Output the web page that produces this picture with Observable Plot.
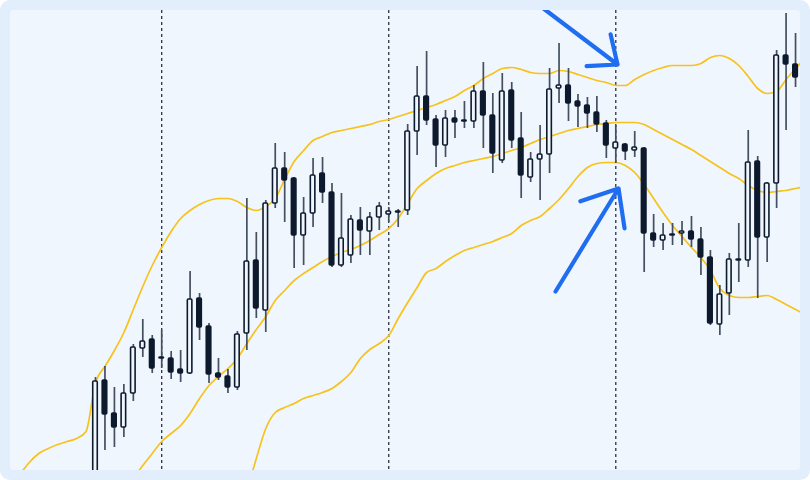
<!DOCTYPE html>
<html>
<head>
<meta charset="utf-8">
<script src="https://cdn.jsdelivr.net/npm/d3@7"></script>
<script src="https://cdn.jsdelivr.net/npm/@observablehq/plot@0.6"></script>
<style>
html, body { margin: 0; padding: 0; background: #ffffff; }
#frame { position: relative; width: 810px; height: 480px; background: #e3eefd; border-radius: 10px; overflow: hidden; }
#panel { position: absolute; left: 10px; top: 10px; width: 790px; height: 460px; background: #f0f6fe; border-radius: 3px; overflow: hidden; }
#panel svg { display: block; }
</style>
</head>
<body>
<div id="frame"><div id="panel"></div></div>
<script>
// ---- Candles (75 sessions, index 0..74) ----
const opens  = [0,100,67,53,87,132,141,122,122,111,107,182,154,107,104,93,147,220,170,277,312,302,245,267,307,288,215,225,260,249,263,266,268,270,349,384,361,335,362,359,359,389,365,320,390,342,303,321,326,392,395,379,375,368,357,332,336,330,332,247,240,245,247,249,241,223,156,187,220,220,319,243,297,425,416];
const closes = [99,66,53,87,133,139,112,123,108,107,181,153,106,103,93,146,219,172,277,312,300,245,267,305,288,215,242,261,250,263,274,269,269,349,384,360,335,362,358,360,389,365,327,389,340,305,321,326,391,395,377,374,367,356,335,338,329,333,247,240,245,246,249,241,223,157,186,221,221,318,243,297,425,416,403];
const highs  = [103,114,93,96,136,161,145,150,129,130,209,187,157,122,111,149,282,248,280,337,328,303,283,322,323,297,287,265,273,268,278,273,271,356,414,429,365,370,370,379,395,418,387,407,398,368,328,355,412,437,412,386,383,384,360,355,337,349,333,266,257,257,259,264,253,230,195,227,257,350,324,298,430,467,447];
const lows   = [-5,30,33,43,79,123,107,112,101,98,106,140,97,100,87,90,130,162,148,272,258,212,215,253,277,213,213,217,225,225,250,258,253,265,325,355,313,323,342,352,352,332,307,317,332,282,298,280,307,377,359,353,352,348,322,317,320,323,208,233,230,235,235,233,205,155,145,165,198,213,182,218,272,350,393];

// ---- Bollinger bands ----
const upperStart = -8;
const upperBand = [6,18,27,32,36,39,42,49,98,114,130,148,171,194,215,233,249,262,270,276,280,282,282,279,273,270,274,282,301,319,330,340,344,348,350,352,354,356,359,361,364,367,370,373,376,380,384,390,395,402,407,412,413,411,408,407,407,410,409,406,403,400,398,395,395,401,406,410,413,415,415,415,417,423,425,422,415,404,392,387,389,401,412,422];
const middleStart = 4;
const middleBand = [2,15,27,39,47,55,67,82,95,104,112,122,137,151,164,180,190,200,207,213,219,224,228,231,235,240,246,252,262,277,292,300,307,312,315,318,320,322,324,327,330,333,337,341,344,347,350,352,354,356,357,358,358,358,356,351,346,341,336,331,325,319,313,307,302,295,290,288,289,290,292,294];
const lowerStart = 16;
const lowerBand = [-10,22,52,68,73,77,82,85,88,92,99,108,122,131,137,145,162,178,193,208,212,219,225,230,233,236,239,243,247,255,260,264,272,281,292,304,313,317,318,318,315,308,296,282,268,255,244,233,223,210,192,185,183,183,184,185,181,176,171,166];

// ---- Markers and annotations ----
const markerSessions = [7, 31, 55];
const arrowFrom = [[47.36, 472], [48.63, 189]];
const arrowTo   = [[55.18, 416], [55.29, 292]];

const candles = opens.map((o, i) => ({i, open: o, close: closes[i], high: highs[i], low: lows[i]}));
const toSeries = (arr, start) => arr.map((v, k) => ({i: start + k, v}));
const arrows = arrowFrom.map((f, k) => ({x1: f[0], y1: f[1], x2: arrowTo[k][0], y2: arrowTo[k][1]}));

const bandColor = "#f7c21a";
const ink = "#0d1a2e";

const chart = Plot.plot({
  width: 790,
  height: 460,
  margin: 0,
  x: {type: "linear", domain: [-8.985, 74.524], axis: null},
  y: {type: "linear", domain: [10, 470], axis: null},
  style: {background: "transparent"},
  marks: [
    Plot.ruleX(markerSessions, {x: d => d, stroke: "#1a2232", strokeWidth: 1.2, strokeDasharray: "3,3"}),
    Plot.line(toSeries(upperBand, upperStart), {x: "i", y: "v", stroke: bandColor, strokeWidth: 1.7, curve: "monotone-x"}),
    Plot.line(toSeries(middleBand, middleStart), {x: "i", y: "v", stroke: bandColor, strokeWidth: 1.7, curve: "monotone-x"}),
    Plot.line(toSeries(lowerBand, lowerStart), {x: "i", y: "v", stroke: bandColor, strokeWidth: 1.7, curve: "monotone-x"}),
    Plot.ruleX(candles, {x: "i", y1: "low", y2: "high", stroke: "#444f60", strokeWidth: 1.7}),
    Plot.rect(candles.filter(d => d.close >= d.open), {x1: d => d.i - 0.24, x2: d => d.i + 0.24, y1: "open", y2: "close", fill: "#f0f6fe", stroke: ink, strokeWidth: 1.6, rx: 1}),
    Plot.rect(candles.filter(d => d.close < d.open), {x1: d => d.i - 0.24, x2: d => d.i + 0.24, y1: "open", y2: "close", fill: ink, stroke: ink, strokeWidth: 1.6, rx: 1}),
    Plot.arrow(arrows, {x1: "x1", y1: "y1", x2: "x2", y2: "y2", stroke: "#1f6df0", strokeWidth: 4.2, headLength: 15, headAngle: 80})
  ]
});
document.getElementById("panel").appendChild(chart);
</script>
</body>
</html>
